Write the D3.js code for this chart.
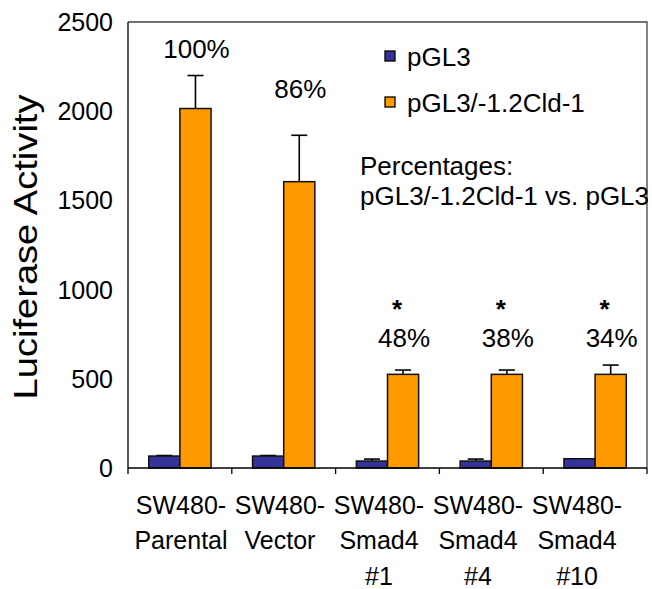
<!DOCTYPE html>
<html>
<head>
<meta charset="utf-8">
<script src="https://cdn.jsdelivr.net/npm/d3@7"></script>
<style>
  body { margin: 0; background: #fff; }
  svg text { font-family: Arial, "Liberation Sans", sans-serif; fill: #000; }
</style>
</head>
<body>
<div id="graph"></div>
<script>
const WIDTH = 652;
const HEIGHT = 589;

// data
const categories = ["Parental", "Vector", "Smad4 #1", "Smad4 #4", "Smad4 #10"];
const categoryLines = [
  ["SW480-", "Parental"],
  ["SW480-", "Vector"],
  ["SW480-", "Smad4", "#1"],
  ["SW480-", "Smad4", "#4"],
  ["SW480-", "Smad4", "#10"]
];
const series = ["pGL3", "pGL3/-1.2Cld-1"];
const pgl3Values = [67, 67, 39, 39, 52];
const pgl3Errors = [3, 3, 11, 11, 0];
const cldValues = [2015, 1605, 525, 525, 525];
const cldErrors = [185, 260, 24, 24, 52];
const percentLabels = ["100%", "86%", "48%", "38%", "34%"];
const percentAt = [2300, 2075, 680, 680, 680];
const significant = [false, false, true, true, true];
const yTicks = [0, 500, 1000, 1500, 2000, 2500];

const plot = { left: 128, right: 647, top: 22, bottom: 468 };

const svg = d3.select("#graph")
  .append("svg")
  .attr("width", WIDTH)
  .attr("height", HEIGHT);

const x0 = d3.scaleBand()
  .domain(categories)
  .range([plot.left, plot.right])
  .padding(0);

const x1 = d3.scaleBand()
  .domain(series)
  .range([x0.bandwidth() * 0.2, x0.bandwidth() * 0.8])
  .padding(0);

const y = d3.scaleLinear()
  .domain([0, 2500])
  .range([plot.bottom, plot.top]);

const labelX = d3.scalePoint()
  .domain(categories)
  .range([181, 577]);

const colors = { "pGL3": "#333399", "pGL3/-1.2Cld-1": "#FF9900" };

const rows = categories.map((c, i) => [
  { cat: c, key: series[0], value: pgl3Values[i], err: pgl3Errors[i] },
  { cat: c, key: series[1], value: cldValues[i], err: cldErrors[i] }
]);

// frame (top + right)
svg.append("path")
  .attr("d", `M${plot.left},${plot.top}H${plot.right}V${plot.bottom}`)
  .attr("fill", "none")
  .attr("stroke", "#444")
  .attr("stroke-width", 1.3);

// error bars (upper half only), drawn before bars
const marks = svg.append("g");
rows.flat().filter(d => d.err > 0).forEach(d => {
  const cx = x0(d.cat) + x1(d.key) + x1.bandwidth() / 2;
  const g = marks.append("g").attr("stroke", "#000").attr("stroke-width", 1.6);
  g.append("line")
    .attr("x1", cx).attr("x2", cx)
    .attr("y1", y(d.value)).attr("y2", y(d.value + d.err));
  g.append("line")
    .attr("x1", cx - 8).attr("x2", cx + 8)
    .attr("y1", y(d.value + d.err)).attr("y2", y(d.value + d.err));
});

svg.append("g")
  .selectAll("g")
  .data(rows)
  .enter()
  .append("g")
  .attr("transform", d => `translate(${x0(d[0].cat)},0)`)
  .selectAll("rect")
  .data(d => d)
  .enter()
  .append("rect")
  .attr("x", d => x1(d.key))
  .attr("y", d => y(d.value))
  .attr("width", x1.bandwidth())
  .attr("height", d => y(0) - y(d.value))
  .attr("fill", d => colors[d.key])
  .attr("stroke", "#111")
  .attr("stroke-width", 1.5);

// y axis
svg.append("line")
  .attr("x1", plot.left).attr("x2", plot.left)
  .attr("y1", plot.top).attr("y2", plot.bottom)
  .attr("stroke", "#000").attr("stroke-width", 1.3);

svg.append("g")
  .selectAll("text")
  .data(yTicks)
  .enter()
  .append("text")
  .attr("x", 113)
  .attr("y", d => y(d))
  .attr("dy", "0.36em")
  .attr("text-anchor", "end")
  .style("font-size", "25px")
  .text(d => d);

// x axis with ticks at category edges
svg.append("line")
  .attr("x1", plot.left).attr("x2", plot.right)
  .attr("y1", plot.bottom).attr("y2", plot.bottom)
  .attr("stroke", "#000").attr("stroke-width", 1.3);

const edges = categories.map(c => x0(c)).concat([x0(categories[4]) + x0.bandwidth()]);
svg.append("g")
  .selectAll("line")
  .data(edges)
  .enter()
  .append("line")
  .attr("x1", d => d).attr("x2", d => d)
  .attr("y1", plot.bottom).attr("y2", plot.bottom + 6)
  .attr("stroke", "#000").attr("stroke-width", 1.3);

const xl = svg.append("g")
  .selectAll("text")
  .data(categories)
  .enter()
  .append("text")
  .attr("text-anchor", "middle")
  .style("font-size", "25px");
xl.selectAll("tspan")
  .data((c, i) => categoryLines[i].map(t => ({ t, c })))
  .enter()
  .append("tspan")
  .attr("x", d => labelX(d.c))
  .attr("y", (d, j) => 514 + j * 35.3)
  .text(d => d.t);

// y title
svg.append("text")
  .attr("transform", "translate(37,247) rotate(-90)")
  .attr("text-anchor", "middle")
  .attr("textLength", 305)
  .attr("lengthAdjust", "spacingAndGlyphs")
  .style("font-size", "33px")
  .text("Luciferase Activity");

// percentage labels and asterisks over the orange bars
const cldX = c => x0(c) + x1(series[1]) + x1.bandwidth() / 2;
svg.append("g")
  .selectAll("text")
  .data(categories)
  .enter()
  .append("text")
  .attr("x", c => cldX(c) + 1)
  .attr("y", (c, i) => y(percentAt[i]))
  .attr("text-anchor", "middle")
  .style("font-size", "26px")
  .text((c, i) => percentLabels[i]);

svg.append("g")
  .selectAll("text")
  .data(categories.filter((c, i) => significant[i]))
  .enter()
  .append("text")
  .attr("x", c => cldX(c) - 6)
  .attr("y", c => y(percentAt[categories.indexOf(c)]) - 29)
  .attr("text-anchor", "middle")
  .style("font-size", "26px")
  .style("font-weight", "bold")
  .text("*");

// legend
const legend = svg.append("g")
  .selectAll("g")
  .data(series)
  .enter()
  .append("g")
  .attr("transform", (d, i) => `translate(385,${51 + i * 46})`);
legend.append("rect")
  .attr("width", 10).attr("height", 10)
  .attr("fill", d => colors[d])
  .attr("stroke", "#000").attr("stroke-width", 1.3);
legend.append("text")
  .attr("x", 22).attr("y", 14.5)
  .style("font-size", "26px")
  .text(d => d);

svg.append("text")
  .attr("x", 360).attr("y", 175)
  .style("font-size", "26px")
  .text("Percentages:");
svg.append("text")
  .attr("x", 360).attr("y", 205)
  .style("font-size", "26px")
  .text("pGL3/-1.2Cld-1 vs. pGL3");
</script>
</body>
</html>
